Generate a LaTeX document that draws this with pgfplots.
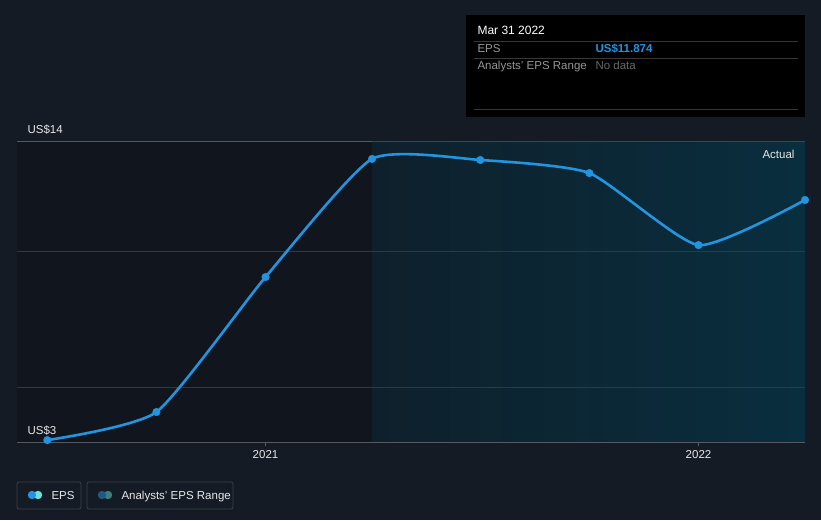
\documentclass[border=0pt]{standalone}
\usepackage{pgfplots}
\pgfplotsset{compat=1.18}
\usepackage{fontspec}
\setmainfont{Liberation Sans}
\setsansfont{Liberation Sans}
\definecolor{bg}{RGB}{21,27,36}
\definecolor{leftbg}{RGB}{17,21,29}
\definecolor{shadeL}{RGB}{14,32,44}
\definecolor{shadeR}{RGB}{9,46,62}
\definecolor{gridc}{RGB}{50,56,64}
\definecolor{axisc}{RGB}{85,90,98}
\definecolor{topteal}{RGB}{40,78,94}
\definecolor{epsblue}{RGB}{35,148,223}
\definecolor{epscyan}{RGB}{110,224,216}
\definecolor{rngA}{RGB}{31,90,128}
\definecolor{rngB}{RGB}{59,127,127}
\definecolor{txt}{RGB}{232,232,232}
\definecolor{txtgray}{RGB}{150,150,150}
\definecolor{txtdim}{RGB}{105,105,105}
\definecolor{tipline}{RGB}{55,55,55}
\definecolor{legborder}{RGB}{60,65,72}
\pgfplotstableread{
x y
2020.496 3.07
2020.748 4.10
2021.0 9.05
2021.246 13.38
2021.496 13.34
2021.748 12.86
2022.0 10.22
2022.246 11.874
}\eps
\begin{document}
\begin{tikzpicture}[x=1pt,y=1pt]
\fill[bg] (0,0) rectangle (821,520);
\begin{axis}[
  at={(17pt,78pt)}, anchor=south west,
  width=788pt, height=300pt, scale only axis,
  xmin=2020.426, xmax=2022.246, ymin=3, ymax=14,
  axis line style={draw=none},
  xtick={2021,2022}, xticklabels={2021,2022},
  xtick pos=bottom, tick align=outside,
  major tick length=4pt,
  tick style={axisc, line width=0.8pt},
  ytick=\empty,
  ticklabel style={font=\fontsize{11.5}{13}\selectfont, text=txt},
  xticklabel style={yshift=-1pt},
  clip=true,
]
\fill[leftbg] (axis cs:2020.426,3) rectangle (axis cs:2021.246,14);
\shade[left color=shadeL, right color=shadeR] (axis cs:2021.246,3) rectangle (axis cs:2022.246,14);
\draw[gridc, line width=0.8pt] (axis cs:2020.426,5) -- (axis cs:2022.246,5);
\draw[gridc, line width=0.8pt] (axis cs:2020.426,10) -- (axis cs:2022.246,10);
\draw[axisc, line width=1pt] (axis cs:2020.426,3) -- (axis cs:2022.246,3);
\draw[axisc, line width=1pt] (axis cs:2020.426,14) -- (axis cs:2021.246,14);
\draw[topteal, line width=1pt] (axis cs:2021.246,14) -- (axis cs:2022.246,14);
\addplot[epsblue, line width=2.6pt, smooth, tension=0.33, mark=*, mark size=3.8pt,
  mark options={fill=epsblue, draw=epsblue, line width=0.4pt}] table[x=x,y=y] {\eps};
\node[anchor=north east, text=txt, font=\fontsize{11.5}{13}\selectfont] at (axis cs:2022.246,14) [xshift=-7pt, yshift=-5pt] {Actual};
\end{axis}
\node[anchor=base west, text=txt, font=\fontsize{11.5}{13}\selectfont] at (24,386) {US\$14};
\node[anchor=base west, text=txt, font=\fontsize{11.5}{13}\selectfont] at (24,86) {US\$3};
% tooltip
\fill[black] (466,403) rectangle (805,505);
\node[anchor=base west, text=white, font=\fontsize{12}{14}\selectfont] at (474,485.5) {Mar 31 2022};
\draw[tipline, line width=0.8pt] (474,479) -- (798,479);
\node[anchor=base west, text=txtgray, font=\fontsize{11.5}{13}\selectfont] at (474,467.5) {EPS};
\node[anchor=base west, text=epsblue, font=\bfseries\fontsize{11.5}{13}\selectfont] at (592,467.5) {US\$11.874};
\draw[tipline, line width=0.8pt] (474,462) -- (798,462);
\node[anchor=base west, text=txtgray, font=\fontsize{11.5}{13}\selectfont] at (474,450) {Analysts' EPS Range};
\node[anchor=base west, text=txtdim, font=\fontsize{11.5}{13}\selectfont] at (592,450) {No data};
\draw[tipline, line width=0.8pt] (474,411) -- (798,411);
% legend
\draw[legborder, line width=0.8pt, rounded corners=2pt] (17,11) rectangle (81,38);
\fill[epscyan] (38,25) circle (4.2);
\fill[epsblue] (32,25) circle (4.2);
\node[anchor=base west, text=txt, font=\fontsize{11.5}{13}\selectfont] at (48,21) {EPS};
\draw[legborder, line width=0.8pt, rounded corners=2pt] (87,11) rectangle (233,38);
\fill[rngB] (108,25) circle (4.2);
\fill[rngA] (102,25) circle (4.2);
\node[anchor=base west, text=txt, font=\fontsize{11.5}{13}\selectfont] at (118,21) {Analysts' EPS Range};
\end{tikzpicture}
\end{document}
